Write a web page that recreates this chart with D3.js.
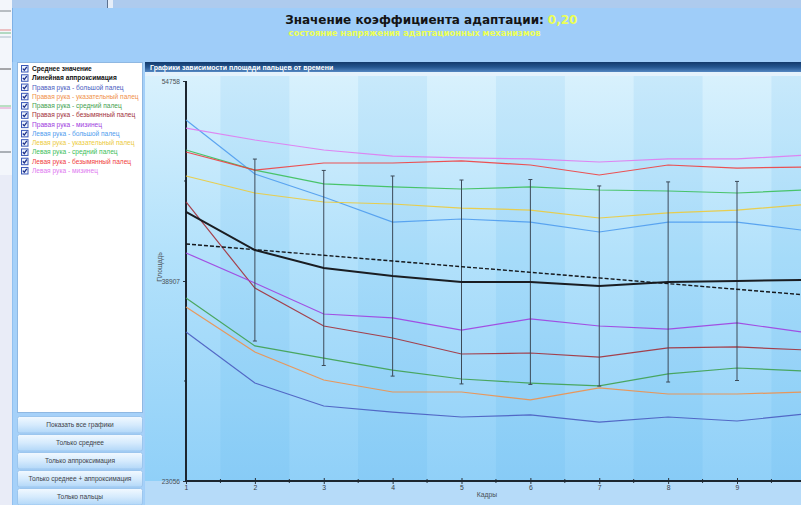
<!DOCTYPE html>
<html>
<head>
<meta charset="utf-8">
<script src="https://cdn.jsdelivr.net/npm/d3@7"></script>
<style>
  html, body { margin: 0; padding: 0; overflow: hidden; background: #e8ecf7; }
  svg { display: block; }
</style>
</head>
<body>
<svg id="chart" width="801" height="505"></svg>
<script>
// ---- data ----------------------------------------------------------------
const frames = [1, 2, 3, 4, 5, 6, 7, 8, 9, 10];
const frameTicks = [1, 2, 3, 4, 5, 6, 7, 8, 9];
const yLabelTicks = [23056, 38907, 54758];
const yMinorTicks = [30982, 46833];

const coefValue = "0,20";
const titleText = "Значение коэффициента адаптации:";
const subtitleText = "состояние напряжения адаптационных механизмов";
const panelTitle = "Графики зависимости площади пальцев от времени";
const xAxisTitle = "Кадры";
const yAxisTitle = "Площадь";

// mean of all fingers per frame, with its spread (error bars)
const meanValues = [44380, 41360, 39940, 39300, 38830, 38830, 38510, 38830, 38910, 38990];
const meanSpread = [null, 7210, 7730, 7930, 8080, 8120, 7930, 7930, 7890, null];
// linear approximation, values at the first and last frame
const approxFrames = [1, 10];
const approxValues = [41840, 37800];

const rightThumb  = [34870, 30820, 29000, 28520, 28130, 28290, 27730, 28130, 27810, 28370];
const rightIndex  = [36850, 33280, 31060, 30110, 30110, 29480, 30430, 29950, 29950, 30110];
const rightMiddle = [37560, 33760, 32800, 31850, 31140, 30820, 30590, 31540, 32010, 31770];
const rightRing   = [45170, 38350, 35340, 34390, 33120, 33200, 32880, 33600, 33680, 33440];
const rightLittle = [41130, 38750, 36290, 35980, 35020, 35900, 35340, 35100, 35580, 34820];
const leftThumb   = [51670, 47390, 45560, 43580, 43820, 43580, 42790, 43580, 43580, 42900];
const leftIndex   = [47230, 45880, 45170, 45010, 44690, 44530, 43900, 44300, 44530, 44970];
const leftMiddle  = [49290, 47700, 46600, 46360, 46200, 46360, 46120, 46040, 45880, 46120];
const leftRing    = [49130, 47700, 48260, 48260, 48420, 48100, 47310, 48100, 47860, 47940];
const leftLittle  = [51030, 50080, 49290, 48810, 48660, 48580, 48340, 48580, 48580, 48890];

const fingerNames = [
  "Правая рука - большой палец",
  "Правая рука - указательный палец",
  "Правая рука - средний палец",
  "Правая рука - безымянный палец",
  "Правая рука - мизинец",
  "Левая рука - большой палец",
  "Левая рука - указательный палец",
  "Левая рука - средний палец",
  "Левая рука - безымянный палец",
  "Левая рука - мизинец"
];
const fingerColors = ["#4a5cc0", "#f0904a", "#3fa14f", "#a3303a", "#a040e0",
                      "#4f9cee", "#eccb3c", "#3cc05a", "#f04040", "#e07af0"];
const fingerValues = [rightThumb, rightIndex, rightMiddle, rightRing, rightLittle,
                      leftThumb, leftIndex, leftMiddle, leftRing, leftLittle];

const summaryNames = ["Среднее значение", "Линейная аппроксимация"];
const buttonLabels = ["Показать все графики", "Только среднее", "Только аппроксимация",
                      "Только среднее + аппроксимация", "Только пальцы"];

// ---- layout ---------------------------------------------------------------
const svg = d3.select("#chart");
const W = 801, H = 505;
const plot = { left: 186, top: 81, bottom: 481, step: 68.875 };

const x = d3.scaleLinear().domain([1, 10]).range([plot.left, plot.left + 9 * plot.step]);
const y = d3.scaleLinear().domain([23056, 54758]).range([plot.bottom, plot.top]);

const defs = svg.append("defs");
function vGrad(id, stops) {
  const g = defs.append("linearGradient").attr("id", id)
    .attr("x1", 0).attr("y1", 0).attr("x2", 0).attr("y2", 1);
  stops.forEach(([o, c]) => g.append("stop").attr("offset", o).attr("stop-color", c));
}
vGrad("plotBg", [[0, "#d8f1fd"], [0.45, "#b2e1fb"], [1, "#90d0f8"]]);
vGrad("barBg", [[0, "#133a6c"], [0.5, "#24558f"], [1, "#5487c2"]]);
vGrad("btnBg", [[0, "#f2f9ff"], [0.5, "#d6ebfd"], [1, "#b2d7f8"]]);

// window background pieces
svg.append("rect").attr("x", 0).attr("y", 0).attr("width", W).attr("height", H).attr("fill", "#e9ecf7");
svg.append("rect").attr("x", 0).attr("y", 0).attr("width", W).attr("height", 8).attr("fill", "#aecbee");
svg.append("rect").attr("x", 107).attr("y", 0).attr("width", 6).attr("height", 8).attr("fill", "#e6eef9");
svg.append("line").attr("x1", 107.5).attr("x2", 107.5).attr("y1", 0).attr("y2", 8).attr("stroke", "#5c7290");
svg.append("rect").attr("x", 0).attr("y", 0).attr("width", 12).attr("height", 175).attr("fill", "#f3f6fb");
[[11, "#606870"], [30, "#e07070"], [33, "#50b070"], [37, "#9ab0c0"], [69, "#303030"],
 [106, "#60c070"], [108, "#e080c0"], [152, "#404850"]].forEach(([yy, c]) =>
  svg.append("line").attr("x1", 0).attr("x2", 11).attr("y1", yy).attr("y2", yy)
    .attr("stroke", c).attr("stroke-width", 1).attr("opacity", 0.8));

// main window
svg.append("rect").attr("x", 12).attr("y", 8).attr("width", W - 12).attr("height", H - 8).attr("fill", "#9fcdf9");
svg.append("line").attr("x1", 12.5).attr("x2", 12.5).attr("y1", 8).attr("y2", H).attr("stroke", "#7fb1e6");

// header: title centred, coefficient value appended after it
const title = svg.append("text").attr("y", 24)
  .attr("font-family", "DejaVu Sans, sans-serif").attr("font-weight", "bold").attr("font-size", 12)
  .attr("fill", "#141414").text(titleText);
const tw = title.node().getComputedTextLength();
title.attr("x", 414.5 - tw / 2);
svg.append("text").attr("x", 414.5 + tw / 2 + 4).attr("y", 24)
  .attr("font-family", "DejaVu Sans, sans-serif").attr("font-weight", "bold").attr("font-size", 12)
  .attr("fill", "#ecff55").text(coefValue);
svg.append("text").attr("x", 414.5).attr("y", 36).attr("text-anchor", "middle")
  .attr("font-family", "DejaVu Sans, sans-serif").attr("font-weight", "bold").attr("font-size", 8.4)
  .attr("fill", "#ecff55").text(subtitleText);

// chart panel
svg.append("rect").attr("x", 145).attr("y", 62).attr("width", W - 145).attr("height", H - 62).attr("fill", "#b6dbf9");
svg.append("rect").attr("x", 145).attr("y", 62).attr("width", W - 145).attr("height", 10).attr("fill", "url(#barBg)");
svg.append("rect").attr("x", 145).attr("y", 72).attr("width", W - 145).attr("height", 4).attr("fill", "#e4f2fc");
svg.append("text").attr("x", 150).attr("y", 70)
  .attr("font-family", "Liberation Sans, Arial, sans-serif").attr("font-weight", "bold").attr("font-size", 7)
  .attr("fill", "#ffffff").text(panelTitle);

// plot background with alternating frame bands
svg.append("rect").attr("x", 145).attr("y", 76).attr("width", W - 145).attr("height", plot.bottom - 76)
  .attr("fill", "url(#plotBg)");
const bandStarts = d3.range(1.5, 10.5, 2);
svg.append("g").selectAll("rect").data(bandStarts).join("rect")
  .attr("x", d => x(d)).attr("width", d => x(d + 1) - x(d))
  .attr("y", 76).attr("height", plot.bottom - 76)
  .attr("fill", "#3aa6ee").attr("opacity", 0.1);

// axes
const axisFont = "Liberation Sans, Arial, sans-serif";
const gx = svg.append("g").attr("transform", `translate(0,${plot.bottom})`)
  .call(d3.axisBottom(x).tickValues(frameTicks).tickSize(3).tickFormat(d3.format("d")));
gx.select(".domain").remove();
gx.selectAll(".tick line").attr("y1", -3).attr("stroke", "#28323c");
gx.selectAll(".tick text").attr("font-family", axisFont).attr("font-size", 6.8).attr("fill", "#3a4048").attr("dy", "0.5em");
svg.append("g").selectAll("line").data(d3.range(1.5, 10, 1)).join("line")
  .attr("x1", d => x(d)).attr("x2", d => x(d)).attr("y1", plot.bottom - 2).attr("y2", plot.bottom + 2)
  .attr("stroke", "#28323c");

const gy = svg.append("g").attr("transform", `translate(${plot.left},0)`)
  .call(d3.axisLeft(y).tickValues(yLabelTicks).tickSize(3).tickFormat(d3.format("d")));
gy.select(".domain").remove();
gy.selectAll(".tick line").attr("stroke", "#28323c");
gy.selectAll(".tick text").attr("font-family", axisFont).attr("font-size", 6.6).attr("fill", "#4a5058");
svg.append("g").selectAll("line").data(yMinorTicks).join("line")
  .attr("x1", plot.left - 2).attr("x2", plot.left).attr("y1", d => y(d)).attr("y2", d => y(d))
  .attr("stroke", "#28323c");

svg.append("line").attr("x1", plot.left).attr("x2", plot.left).attr("y1", plot.top).attr("y2", plot.bottom + 1)
  .attr("stroke", "#1c2630").attr("stroke-width", 2);
svg.append("line").attr("x1", plot.left - 1).attr("x2", W).attr("y1", plot.bottom).attr("y2", plot.bottom)
  .attr("stroke", "#1c2630").attr("stroke-width", 2);

svg.append("text").attr("x", 487).attr("y", 497).attr("text-anchor", "middle")
  .attr("font-family", axisFont).attr("font-size", 6.8).attr("fill", "#4a5058").text(xAxisTitle);
svg.append("text").attr("transform", "translate(162,267) rotate(-90)").attr("text-anchor", "middle")
  .attr("font-family", axisFont).attr("font-size", 6.8).attr("fill", "#4a5058").text(yAxisTitle);

// series
const line = d3.line().x((d, i) => x(frames[i])).y(d => y(d));
const lines = svg.append("g");
fingerValues.forEach((vals, k) => {
  lines.append("path").attr("d", line(vals)).attr("fill", "none")
    .attr("stroke", fingerColors[k]).attr("stroke-width", 1.2).attr("opacity", 0.9);
});

// error bars around the mean
const eb = svg.append("g").attr("stroke", "#3c4a58").attr("stroke-width", 1);
frames.forEach((f, i) => {
  const s = meanSpread[i];
  if (s == null) return;
  const cx = x(f), y1 = y(meanValues[i] + s), y2 = y(meanValues[i] - s);
  eb.append("line").attr("x1", cx).attr("x2", cx).attr("y1", y1).attr("y2", y2);
  eb.append("line").attr("x1", cx - 2).attr("x2", cx + 2).attr("y1", y1).attr("y2", y1);
  eb.append("line").attr("x1", cx - 2).attr("x2", cx + 2).attr("y1", y2).attr("y2", y2);
});

svg.append("path").attr("d", line(meanValues)).attr("fill", "none")
  .attr("stroke", "#1a1d22").attr("stroke-width", 2);
svg.append("path")
  .attr("d", d3.line().x((d, i) => x(approxFrames[i])).y(d => y(d))(approxValues))
  .attr("fill", "none").attr("stroke", "#15181c").attr("stroke-width", 1.4).attr("stroke-dasharray", "4,2");

// left panel: legend list
svg.append("rect").attr("x", 12.5).attr("y", 62).attr("width", 132).attr("height", H - 62).attr("fill", "#a6d1f9");
svg.append("rect").attr("x", 17.5).attr("y", 62.5).attr("width", 125).attr("height", 350)
  .attr("fill", "#ffffff").attr("stroke", "#8fb8e2");

const legendItems = summaryNames.map(n => ({ name: n, color: "#111111", bold: true }))
  .concat(fingerNames.map((n, k) => ({ name: n, color: fingerColors[k], bold: false })));
const lg = svg.append("g").selectAll("g").data(legendItems).join("g")
  .attr("transform", (d, i) => `translate(21,${65 + i * 9.27})`);
lg.append("rect").attr("x", 0.5).attr("y", 0.5).attr("width", 6.5).attr("height", 6.5)
  .attr("fill", "#eef4fc").attr("stroke", "#3a58b8").attr("stroke-width", 1);
lg.append("path").attr("d", "M1.8,3.6 L3.3,5.2 L5.8,1.8").attr("fill", "none")
  .attr("stroke", "#1c2f8a").attr("stroke-width", 1.3);
lg.append("text").attr("x", 11).attr("y", 6)
  .attr("font-family", axisFont).attr("font-size", 6.6)
  .attr("font-weight", d => d.bold ? "bold" : "normal")
  .attr("fill", d => d.color).text(d => d.name);

// left panel: buttons
const bt = svg.append("g").selectAll("g").data(buttonLabels).join("g")
  .attr("transform", (d, i) => `translate(17,${416 + i * 18})`);
bt.append("rect").attr("x", 0.5).attr("y", 0.5).attr("width", 125).attr("height", 16.5).attr("rx", 2)
  .attr("fill", "url(#btnBg)").attr("stroke", "#9cc6ee");
bt.append("text").attr("x", 63).attr("y", 11).attr("text-anchor", "middle")
  .attr("font-family", axisFont).attr("font-size", 6.6).attr("fill", "#3c4248").text(d => d);
</script>
</body>
</html>
